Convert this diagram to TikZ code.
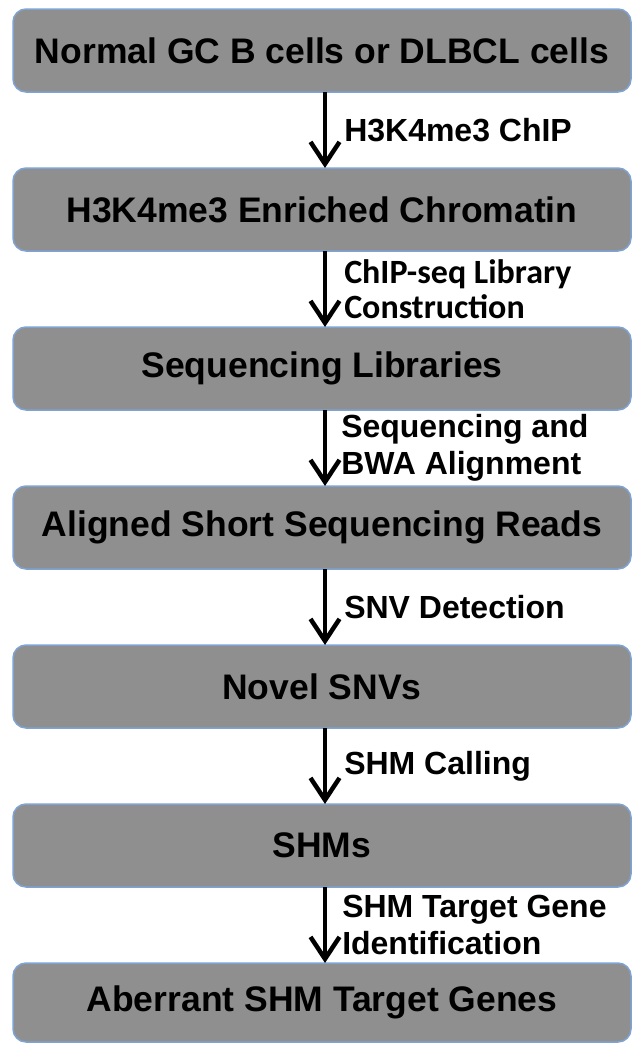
\documentclass[tikz,border=0pt]{standalone}
\usepackage{fontspec}
\setmainfont{Liberation Sans}
\newfontfamily\calibrifont{Carlito}
\usetikzlibrary{arrows.meta,positioning}
\definecolor{stagegray}{HTML}{8F8F8F}
\definecolor{stageblue}{HTML}{7FA4D4}

\begin{document}
\begin{tikzpicture}[x=1pt, y=1pt,
        stage/.style={draw=stageblue, line width=1.5pt, fill=stagegray, rounded corners=13pt,
                minimum width=618pt, minimum height=83pt, inner sep=0pt, outer sep=0pt,
                font=\bfseries\fontsize{35.5}{40}\selectfont},
        flow/.style={line width=4.5pt, -{Straight Barb[length=22pt, width=29pt]}},
        steplabel/.style={inner sep=0pt, align=left, font=\bfseries\fontsize{32}{37}\selectfont}]
        \useasboundingbox (0, 0) rectangle (633, -1044);

        \node[stage] (cells) at (322, -50.5) {Normal GC B cells or DLBCL cells};
        \node[stage, below=76pt of cells] (chromatin) {H3K4me3 Enriched Chromatin};
        \node[stage, below=76pt of chromatin] (libraries) {Sequencing Libraries};
        \node[stage, below=76pt of libraries] (reads) {Aligned Short Sequencing Reads};
        \node[stage, below=76pt of reads] (snvs) {Novel SNVs};
        \node[stage, below=76pt of snvs] (shms) {SHMs};
        \node[stage, below=76pt of shms, minimum height=79pt] (genes) {Aberrant SHM Target Genes};

        \draw[flow] ([xshift=3pt]cells.south) -- node[steplabel, right=17pt]
                {H3K4me3 ChIP} ([xshift=3pt]chromatin.north);
        \draw[flow] ([xshift=3pt]chromatin.south) -- node[steplabel, right=17pt,
                font=\bfseries\calibrifont\fontsize{34}{35}\selectfont]
                {ChIP-seq Library\\Construction} ([xshift=3pt]libraries.north);
        \draw[flow] ([xshift=3pt]libraries.south) -- node[steplabel, right=14pt]
                {Sequencing and\\BWA Alignment} ([xshift=3pt]reads.north);
        \draw[flow] ([xshift=3pt]reads.south) -- node[steplabel, right=17pt]
                {SNV Detection} ([xshift=3pt]snvs.north);
        \draw[flow] ([xshift=3pt]snvs.south) -- node[steplabel, right=17pt]
                {SHM Calling} ([xshift=3pt]shms.north);
        \draw[flow] ([xshift=3pt]shms.south) -- node[steplabel, right=15pt]
                {SHM Target Gene\\Identification} ([xshift=3pt]genes.north);
\end{tikzpicture}
\end{document}
